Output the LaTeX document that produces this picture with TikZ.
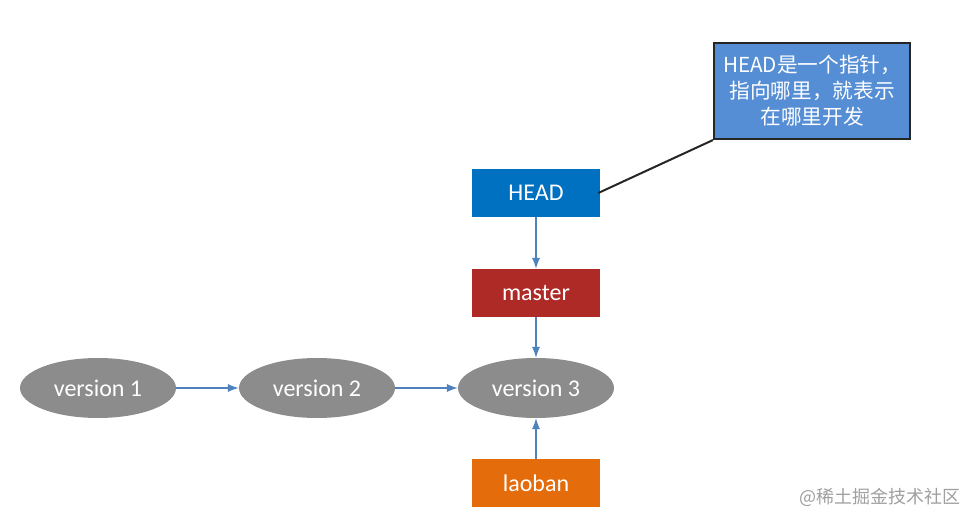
\documentclass[tikz,border=0pt]{standalone}
\usepackage{fontspec}
\setmainfont{Carlito}
\newfontfamily\cjk{Noto Sans CJK SC}
\usetikzlibrary{shapes.geometric}
\definecolor{headblue}{HTML}{0070C0}
\definecolor{masterred}{HTML}{AD2A26}
\definecolor{laobanorange}{HTML}{E46C0A}
\definecolor{versiongray}{HTML}{8C8C8C}
\definecolor{arrowblue}{HTML}{4F81BD}
\definecolor{noteblue}{HTML}{558ED5}
\definecolor{notegray}{HTML}{262626}
\tikzset{
  version/.style={ellipse,fill=versiongray,text=white,minimum width=117pt,minimum height=45pt,inner sep=0pt},
  pointer/.style={rectangle,text=white,minimum width=96pt,minimum height=36pt,inner sep=0pt},
  link/.style={-latex,arrowblue,line width=1.8pt}
}
\begin{document}
\begin{tikzpicture}[x=0.75pt,y=-0.75pt,font=\fontsize{18}{22}\selectfont]
\useasboundingbox (0,0) rectangle (978,530);
%commits
\node[version] (v1) at (98,388) {version 1};
\node[version] (v2) at (317,388) {version 2};
\node[version] (v3) at (536,388) {version 3};

%branches
\node[pointer,fill=headblue] (head) at (536,193) {HEAD};
\node[pointer,fill=masterred] (master) at (536,293) {master};
\node[pointer,fill=laobanorange] (laoban) at (536,483) {laoban};

\draw[link] (v1) -- (v2);
\draw[link] (v2) -- (v3);
\draw[link] (head) -- (master);
\draw[link] (master) -- (v3);
\draw[link] (laoban) -- (v3);

%note
\node[rectangle,draw=notegray,line width=1.6pt,fill=noteblue,text=white,minimum width=147pt,minimum height=72pt,inner sep=0pt,align=center,font=\cjk\fontsize{15.5}{19.5}\selectfont] (note) at (812,91) {HEAD是一个指针，\\指向哪里，就表示\\在哪里开发};
\draw[notegray,line width=1.5pt] (note.south west) -- ([xshift=-1.5pt]head.east);

%watermark
\node[anchor=east,text=gray!75,inner sep=0pt,font=\cjk\fontsize{13.5}{16}\selectfont] (mark) at (961,497) {@稀土掘金技术社区};
\end{tikzpicture}
\end{document}
